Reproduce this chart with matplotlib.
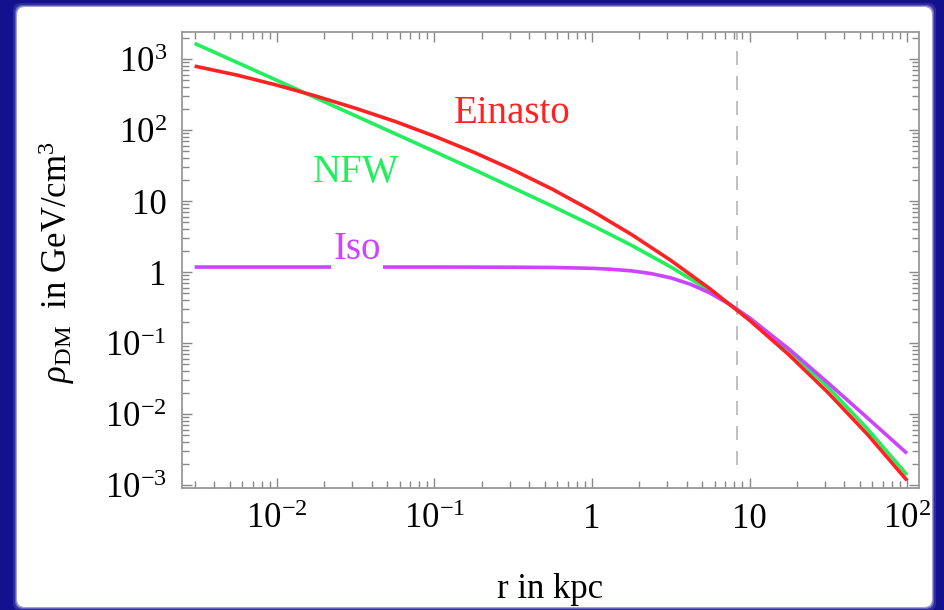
import numpy as np
import matplotlib
matplotlib.use("Agg")
import matplotlib.pyplot as plt
from matplotlib.patches import FancyBboxPatch
from matplotlib.transforms import IdentityTransform
from matplotlib.ticker import FixedLocator, FixedFormatter, LogLocator, NullFormatter

plt.rcParams['font.family'] = 'serif'
plt.rcParams['font.serif'] = ['Liberation Serif', 'DejaVu Serif']
plt.rcParams['mathtext.fontset'] = 'custom'
plt.rcParams['mathtext.rm'] = 'Liberation Serif'
plt.rcParams['mathtext.it'] = 'Liberation Serif:italic'

# radius in kpc, densities in GeV/cm^3
r_kpc = [0.003, 0.0056, 0.01, 0.0178, 0.0316, 0.0562, 0.1, 0.178, 0.316, 0.562,
         1.0, 1.78, 3.16, 5.62, 10.0, 17.8, 31.6, 56.2, 100.0]
rho_nfw = [1660, 891, 500, 281, 158, 88.7, 49.7, 27.7, 15.3, 8.43,
           4.55, 2.38, 1.18, 0.543, 0.223, 0.0791, 0.0238, 0.00614, 0.00139]
rho_ein = [794, 592, 428, 299, 202, 132, 81.8, 48.5, 27.4, 14.6,
           7.26, 3.38, 1.46, 0.578, 0.209, 0.0682, 0.0199, 0.00514, 0.00116]

r_iso = [0.003, 0.1, 0.316, 0.562, 1.0, 1.33, 1.78, 2.37, 3.16, 4.22, 5.62,
         7.5, 10.0, 17.8, 31.6, 56.2, 100.0]
rho_iso = [1.175, 1.175, 1.169, 1.159, 1.127, 1.093, 1.038, 0.951, 0.828, 0.672, 0.505,
           0.349, 0.226, 0.0822, 0.0273, 0.00877, 0.00279]

r_sun = 8.33

xticks = [0.01, 0.1, 1, 10, 100]
xticklabels = [r'$10^{-2}$', r'$10^{-1}$', '1', '10', r'$10^{2}$']
yticks = [0.001, 0.01, 0.1, 1, 10, 100, 1000]
yticklabels = [r'$10^{-3}$', r'$10^{-2}$', r'$10^{-1}$', '1', '10', r'$10^{2}$', r'$10^{3}$']

c_nfw = '#22ee5e'
c_ein = '#ff2222'
c_iso = '#cc44ff'

fig = plt.figure(figsize=(9.44, 6.10), dpi=100, facecolor='#14118e')

# white panel with soft edge
for grow, a in [(4, 0.15), (2, 0.35), (1, 0.6)]:
    fig.patches.append(FancyBboxPatch((17 - grow, 3 - grow), 915 + 2 * grow, 600 + 2 * grow,
                                      boxstyle='round,pad=0,rounding_size=8',
                                      transform=IdentityTransform(), facecolor='#c8c8f4',
                                      edgecolor='none', alpha=a, zorder=-2))
fig.patches.append(FancyBboxPatch((17, 3), 915, 600, boxstyle='round,pad=0,rounding_size=8',
                                  transform=IdentityTransform(), facecolor='white',
                                  edgecolor='none', zorder=-1))

ax = fig.add_axes([0.1928, 0.2, 0.7807, 0.7475])
ax.set_facecolor('white')
ax.set_xscale('log')
ax.set_yscale('log')
ax.set_xlim(10 ** -2.603, 10 ** 2.076)
ax.set_ylim(10 ** -3.042, 10 ** 3.38)

ax.axvline(r_sun, ymin=0.05, ymax=1, color='#b4b4b4', lw=1.2, dashes=(8.4, 6.6))

ax.plot(r_kpc, rho_nfw, color=c_nfw, lw=2.6, solid_capstyle='butt', solid_joinstyle='round')
ax.plot(r_iso, rho_iso, color=c_iso, lw=2.6, solid_capstyle='butt', solid_joinstyle='round')
ax.plot(r_kpc, rho_ein, color=c_ein, lw=2.6, solid_capstyle='butt', solid_joinstyle='round')

ax.text(0.31, 126, 'Einasto', color=c_ein, fontsize=28, ha='center', va='baseline')
ax.text(0.0318, 18.5, 'NFW', color=c_nfw, fontsize=28, ha='center', va='baseline')
ax.text(0.0322, 1.52, 'Iso', color=c_iso, fontsize=28, ha='center', va='baseline',
        bbox=dict(boxstyle='square,pad=0.05', facecolor='white', edgecolor='none'), zorder=5)

ax.xaxis.set_major_locator(FixedLocator(xticks))
ax.xaxis.set_major_formatter(FixedFormatter(xticklabels))
ax.yaxis.set_major_locator(FixedLocator(yticks))
ax.yaxis.set_major_formatter(FixedFormatter(yticklabels))
for a in (ax.xaxis, ax.yaxis):
    a.set_minor_locator(LogLocator(base=10, subs=np.arange(2, 10), numticks=30))
    a.set_minor_formatter(NullFormatter())

ax.tick_params(which='both', direction='in', top=True, right=True, color='#888888', width=1.0)
ax.tick_params(which='major', length=7, labelsize=25)
ax.tick_params(which='minor', length=5)
ax.tick_params(axis='x', which='major', pad=11)
ax.tick_params(axis='y', which='major', pad=11)
for s in ax.spines.values():
    s.set_color('#999999')
    s.set_linewidth(1.3)

fig.text(550 / 944, 1 - 598 / 610, 'r in kpc', fontsize=25, ha='center', va='baseline')
fig.text(57 / 944, 1 - 262 / 610, r'$\rho_{\mathrm{DM}}$  in GeV/cm$^3$', fontsize=25,
         rotation=90, ha='center', va='center')

fig.savefig('out.png', dpi=100, facecolor=fig.get_facecolor())
